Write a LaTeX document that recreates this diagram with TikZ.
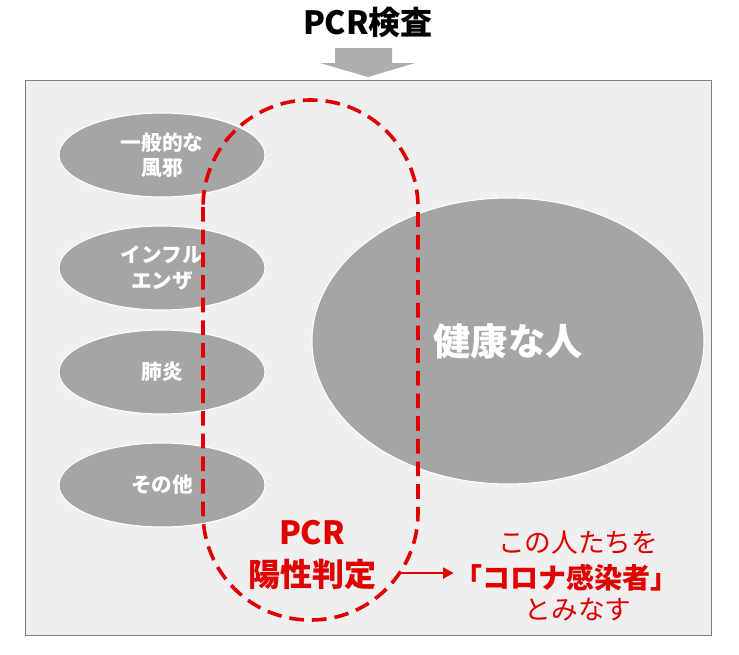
\documentclass[tikz,border=0pt]{standalone}
\usepackage{fontspec}
\setmainfont{Noto Sans CJK JP}
\usetikzlibrary{positioning,arrows.meta}
\definecolor{frame}{HTML}{EFEFEF}
\definecolor{blob}{HTML}{A5A5A5}
\definecolor{pcrred}{HTML}{E00000}
\tikzset{
  disease/.style={ellipse, draw=white, thick, fill=blob, minimum width=206*0.75pt, minimum height=84*0.75pt, text=white, font=\bfseries\fontsize{15.5}{19}\selectfont, align=center, inner sep=0},
  note/.style={text=pcrred, align=center, inner sep=0}
}
\usetikzlibrary{shapes.geometric}
\begin{document}
\begin{tikzpicture}[x=0.75pt, y=-0.75pt]
  \useasboundingbox (0,0) rectangle (739,654);
  \node (title) at (368,22) {\bfseries\fontsize{24}{28}\selectfont PCR検査};
  % down arrow
  \fill [blob!90] (335,48) -- (392,48) -- (392,63) -- (415,63) -- (368,77) -- (320,63) -- (335,63) -- cycle;
  \draw [gray, fill=frame] (25,80) rectangle (711,635);
  \node [disease] (cold) at (162,155) {一般的な\\風邪};
  \node [disease] (flu) at (162,268) {インフル\\エンザ};
  \node [disease] (pneu) at (162,372) {肺炎};
  \node [disease] (other) at (162,485) {その他};
  \node [ellipse, draw=white, thick, fill=blob, minimum width=392*0.75pt, minimum height=286*0.75pt, inner sep=0, text=white, font=\bfseries\fontsize{28}{32}\selectfont] (healthy) at (508,341) {健康な人};
  % positive region
  \draw [pcrred, line width=2.7pt, dash pattern=on 11pt off 6pt, rounded corners=107*0.75pt] (203,100) rectangle (418,620);
  \node [note, font=\bfseries\fontsize{24}{31}\selectfont] (pos) at (312,555) {PCR\\陽性判定};
  \node [note, font=\fontsize{20}{24}\selectfont] (these) at (578,543) {この人たちを};
  \node [note, font=\bfseries\fontsize{21}{25}\selectfont] (corona) at (566,578) {「コロナ感染者」};
  \node [note, font=\fontsize{20}{24}\selectfont] (regard) at (578,610) {とみなす};
  \coordinate (from) at (398,573);
  \draw [pcrred, line width=2.2pt, -{Triangle[length=8pt,width=8pt]}] (from) -- (corona.west |- from);
\end{tikzpicture}
\end{document}
